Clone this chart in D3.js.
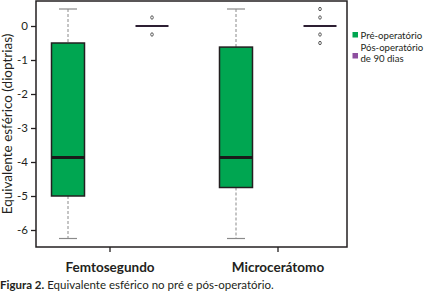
<!DOCTYPE html>
<html><head><meta charset="utf-8">
<script src="https://cdn.jsdelivr.net/npm/d3@7"></script>
<style>body{margin:0;background:#fff}svg{display:block}text{font-family:Lato,"Open Sans",sans-serif;fill:#231f20}</style>
</head><body><svg id="c" width="426" height="292"></svg>
<script>
const groups = ["Femtosegundo", "Microcerátomo"];
const series = ["Pré-operatório", "Pós-operatório de 90 dias"];
const yTicks = [0, -1, -2, -3, -4, -5, -6];
// Pre-operative box statistics
const preWhiskerHigh = [0.5, 0.5];
const preQ3 = [-0.5, -0.62];
const preMedian = [-3.87, -3.87];
const preQ1 = [-5.0, -4.75];
const preWhiskerLow = [-6.25, -6.25];
// Post-operative (90 days)
const postMedian = [0, 0];
const postOutliers = [[0.25, -0.25], [0.5, 0.25, -0.25, -0.5]];
const colors = ["#00a651", "#8e4fa0"];

const svg = d3.select("#c");
const frame = {l: 36, r: 347, t: 1, b: 247};
const y = d3.scaleLinear().domain([-6, 0]).range([230, 26]);
const x = d3.scaleBand().domain(groups).range([26, 362]);
const xs = d3.scaleBand().domain(series).range([0, x.bandwidth()]);
const boxW = 33, capW = 18;
const cx = (g, s) => x(g) + xs(s) + xs.bandwidth() / 2;

groups.forEach((g, i) => {
  const c = cx(g, series[0]);
  svg.append("line").attr("x1", c).attr("x2", c).attr("y1", y(preWhiskerHigh[i])).attr("y2", y(preQ3[i]))
    .attr("stroke", "#8a8a8a").attr("stroke-width", 1).attr("stroke-dasharray", "3,2");
  svg.append("line").attr("x1", c).attr("x2", c).attr("y1", y(preQ1[i])).attr("y2", y(preWhiskerLow[i]))
    .attr("stroke", "#8a8a8a").attr("stroke-width", 1).attr("stroke-dasharray", "3,2");
  [preWhiskerHigh[i], preWhiskerLow[i]].forEach(v => {
    svg.append("line").attr("x1", c - capW / 2).attr("x2", c + capW / 2).attr("y1", y(v)).attr("y2", y(v))
      .attr("stroke", "#8a8a8a").attr("stroke-width", 1.2);
  });
  svg.append("rect").attr("x", c - boxW / 2).attr("y", y(preQ3[i])).attr("width", boxW)
    .attr("height", y(preQ1[i]) - y(preQ3[i])).attr("fill", colors[0]).attr("stroke", "#231f20").attr("stroke-width", 1.5);
  svg.append("line").attr("x1", c - boxW / 2).attr("x2", c + boxW / 2).attr("y1", y(preMedian[i])).attr("y2", y(preMedian[i]))
    .attr("stroke", "#1a1a1a").attr("stroke-width", 3);

  const c2 = cx(g, series[1]);
  svg.append("line").attr("x1", c2 - boxW / 2).attr("x2", c2 + boxW / 2).attr("y1", y(postMedian[i])).attr("y2", y(postMedian[i]))
    .attr("stroke", "#2d1f33").attr("stroke-width", 2.2);
  postOutliers[i].forEach(v => {
    svg.append("ellipse").attr("cx", c2).attr("cy", y(v)).attr("rx", 1.3).attr("ry", 1.7)
      .attr("fill", "none").attr("stroke", "#333").attr("stroke-width", 0.8);
  });
});

svg.append("rect").attr("x", frame.l).attr("y", frame.t).attr("width", frame.r - frame.l).attr("height", frame.b - frame.t)
  .attr("fill", "none").attr("stroke", "#231f20").attr("stroke-width", 1.5);

const yAxis = svg.append("g").attr("transform", `translate(${frame.l},0)`)
  .call(d3.axisLeft(y).tickValues(yTicks).tickSize(5).tickFormat(d => String(d)));
yAxis.select(".domain").remove();
yAxis.selectAll("line").attr("stroke", "#231f20").attr("stroke-width", 1.3);
yAxis.selectAll("text").attr("font-size", 11.5).attr("font-family", "Lato").attr("fill", "#231f20").attr("x", -8);

const xAxis = svg.append("g").attr("transform", `translate(0,${frame.b})`)
  .call(d3.axisBottom(x).tickSize(5).tickPadding(8));
xAxis.select(".domain").remove();
xAxis.selectAll("line").attr("stroke", "#231f20").attr("stroke-width", 1.3);
xAxis.selectAll("text").attr("font-size", 13.5).attr("font-weight", "bold").attr("font-family", "Lato").attr("fill", "#231f20").attr("dy", "0.9em");

svg.append("text").attr("transform", `translate(12,${(frame.t + frame.b) / 2}) rotate(-90)`)
  .attr("text-anchor", "middle").attr("font-size", 13.5).text("Equivalente esférico (dioptrias)");

const lg = svg.append("g");
lg.append("rect").attr("x", 352.5).attr("y", 32).attr("width", 5.5).attr("height", 5.5).attr("fill", colors[0]);
lg.append("text").attr("x", 360.5).attr("y", 38.5).attr("font-size", 9.6).text(series[0]);
lg.append("rect").attr("x", 352.5).attr("y", 53).attr("width", 5.5).attr("height", 5.5).attr("fill", colors[1]);
lg.append("text").attr("x", 360.5).attr("y", 51).attr("font-size", 9.6).text("Pós-operatório");
lg.append("text").attr("x", 360.5).attr("y", 62).attr("font-size", 9.6).text("de 90 dias");

const cap = svg.append("text").attr("x", 0).attr("y", 289).attr("font-size", 11.5);
cap.append("tspan").attr("font-weight", "bold").text("Figura 2.");
cap.append("tspan").text(" Equivalente esférico no pré e pós-operatório.");
</script></body></html>
